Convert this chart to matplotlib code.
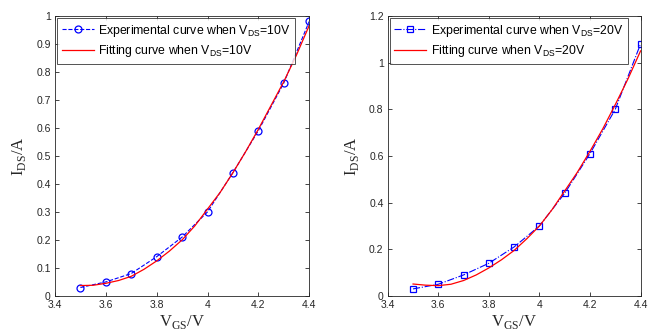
import matplotlib
matplotlib.use("Agg")
import matplotlib.pyplot as plt

# ======================================================
# Data
# ======================================================

vgs = [3.5, 3.6, 3.7, 3.8, 3.9, 4.0, 4.1, 4.2, 4.3, 4.4]
ids_10v = [0.03, 0.05, 0.08, 0.14, 0.21, 0.30, 0.44, 0.59, 0.76, 0.98]
ids_20v = [0.03, 0.05, 0.09, 0.14, 0.21, 0.30, 0.44, 0.61, 0.80, 1.08]

vgs_fit = [3.5, 3.55, 3.6, 3.65, 3.7, 3.75, 3.8, 3.85, 3.9, 3.95,
           4.0, 4.05, 4.1, 4.15, 4.2, 4.25, 4.3, 4.35, 4.4]
fit_10v = [0.037, 0.038, 0.045, 0.055, 0.07, 0.095, 0.125, 0.16, 0.20, 0.25,
           0.31, 0.37, 0.44, 0.515, 0.595, 0.68, 0.765, 0.86, 0.965]
fit_20v = [0.051, 0.046, 0.044, 0.05, 0.066, 0.09, 0.12, 0.155, 0.195, 0.245,
           0.30, 0.37, 0.45, 0.53, 0.62, 0.715, 0.82, 0.93, 1.05]

AX_COLOR = "#262626"
plt.rcParams["font.family"] = "Liberation Sans"
plt.rcParams["font.size"] = 8

fig = plt.figure(figsize=(6.55, 3.31), dpi=100)
ax1 = fig.add_axes([0.084, 0.106, 0.388, 0.846])
ax2 = fig.add_axes([0.592, 0.106, 0.386, 0.846])


def style_axes(ax, ylim, yticks, yticklabels):
    ax.set_xlim(3.4, 4.4)
    ax.set_ylim(*ylim)
    ax.set_xticks([3.4, 3.6, 3.8, 4.0, 4.2, 4.4])
    ax.set_xticklabels(["3.4", "3.6", "3.8", "4", "4.2", "4.4"])
    ax.set_yticks(yticks)
    ax.set_yticklabels(yticklabels)
    ax.tick_params(direction="in", top=True, right=True, length=3,
                   width=0.6, colors=AX_COLOR, labelsize=7.5, pad=3)
    for s in ax.spines.values():
        s.set_color(AX_COLOR)
        s.set_linewidth(0.6)
    ax.set_xlabel(r"V$_\mathregular{GS}$/V", family="Liberation Serif",
                  fontsize=12, color=AX_COLOR, labelpad=2)
    ax.set_ylabel(r"I$_\mathregular{DS}$/A", family="Liberation Serif",
                  fontsize=12, color=AX_COLOR, labelpad=6)


# Left panel: VDS = 10 V
ax1.plot(vgs, ids_10v, "--o", color="blue", lw=0.8, ms=5, mfc="none",
         mew=0.9, label=r"Experimental curve when V$_\mathregular{DS}$=10V")
ax1.plot(vgs_fit, fit_10v, "-", color="red", lw=0.9,
         label=r"Fitting curve when V$_\mathregular{DS}$=10V")
style_axes(ax1, (0, 1), [0, 0.1, 0.2, 0.3, 0.4, 0.5, 0.6, 0.7, 0.8, 0.9, 1],
           ["0", "0.1", "0.2", "0.3", "0.4", "0.5", "0.6", "0.7", "0.8", "0.9", "1"])

# Right panel: VDS = 20 V
ax2.plot(vgs, ids_20v, "-.s", color="blue", lw=0.8, ms=4.5, mfc="none",
         mew=0.9, label=r"Experimental curve when V$_\mathregular{DS}$=20V")
ax2.plot(vgs_fit, fit_20v, "-", color="red", lw=0.9,
         label=r"Fitting curve when V$_\mathregular{DS}$=20V")
style_axes(ax2, (0, 1.2), [0, 0.2, 0.4, 0.6, 0.8, 1.0, 1.2],
           ["0", "0.2", "0.4", "0.6", "0.8", "1", "1.2"])

for ax in (ax1, ax2):
    leg = ax.legend(loc="upper left", fontsize=8.8, frameon=True, fancybox=False,
                    borderaxespad=0.2, handlelength=2.6, handletextpad=0.4,
                    borderpad=0.35, labelspacing=0.4)
    leg.get_frame().set_edgecolor(AX_COLOR)
    leg.get_frame().set_linewidth(0.7)

fig.savefig("out.png", dpi=100)
